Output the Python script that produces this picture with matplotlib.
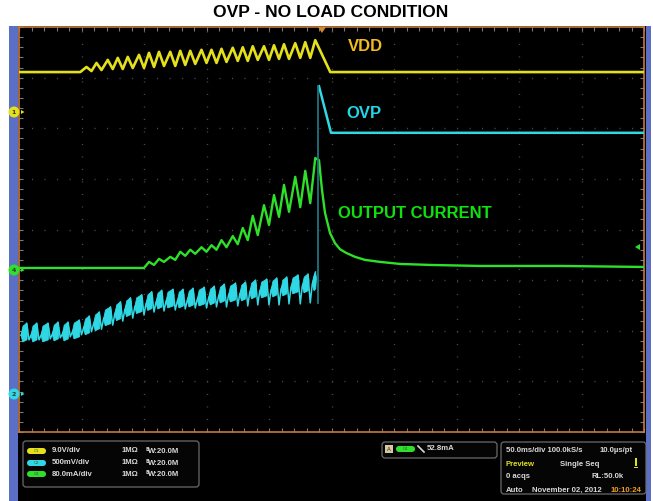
import matplotlib
matplotlib.use("Agg")
import numpy as np
import matplotlib.pyplot as plt
from matplotlib.patches import Rectangle, FancyBboxPatch, Circle, Polygon
from matplotlib.ticker import MultipleLocator

# time in ms (50 ms/div, 10 div), levels in divisions (8 div, bottom = 0)

# CH1 - VDD (yellow)
vdd_base = 7.11
vdd_pk_t = [54, 62, 71, 79, 87, 96, 104, 112, 121, 129, 137, 146, 154, 162,
            171, 179, 187, 196, 204, 212, 221, 229, 237]
vdd_pk = [7.21, 7.29, 7.35, 7.39, 7.41, 7.45, 7.49, 7.51, 7.51, 7.53, 7.53,
          7.55, 7.55, 7.57, 7.59, 7.60, 7.62, 7.62, 7.64, 7.66, 7.68, 7.70, 7.74]
vdd_tr_t = [58, 66, 75, 83, 91, 100, 108, 116, 125, 133, 141, 150, 158, 166,
            175, 183, 191, 200, 208, 216, 225, 233]
vdd_tr = [7.13, 7.15, 7.17, 7.17, 7.19, 7.19, 7.21, 7.23, 7.23, 7.25, 7.27,
          7.29, 7.29, 7.31, 7.33, 7.33, 7.35, 7.35, 7.37, 7.37, 7.39, 7.39]
vdd_off_t = 249

# CH2 - OVP (cyan)
ovp_spike_t = [8, 16, 25, 33, 41, 50, 58, 66, 75, 83, 91, 100, 108, 116, 125,
               133, 141, 150, 158, 166, 175, 183, 191, 200, 208, 216, 225, 233]
ovp_top = [2.15, 2.15, 2.15, 2.17, 2.17, 2.21, 2.29, 2.37, 2.47, 2.57, 2.65,
           2.71, 2.77, 2.80, 2.82, 2.82, 2.84, 2.86, 2.88, 2.92, 2.94, 2.96,
           3.00, 3.02, 3.04, 3.06, 3.10, 3.12, 3.16]
ovp_bot = [1.82, 1.82, 1.84, 1.86, 1.88, 1.92, 1.98, 2.03, 2.11, 2.19, 2.25,
           2.31, 2.37, 2.39, 2.41, 2.43, 2.45, 2.45, 2.47, 2.47, 2.49, 2.49,
           2.51, 2.51, 2.51, 2.53, 2.53, 2.55]
ovp_trip_t = 239.5
ovp_peak = 6.83
ovp_fall_t = 249.6
ovp_high = 5.91

# CH4 - output current (green)
cur_base = 3.24
cur_start_t = 100
cur_pk_t = [104, 112, 121, 129, 137, 146, 154, 162, 171, 179, 187, 196, 204,
            212, 221, 229, 237]
cur_pk = [3.36, 3.42, 3.46, 3.56, 3.60, 3.65, 3.69, 3.79, 3.87, 4.03, 4.27,
          4.48, 4.68, 4.88, 5.04, 5.16, 5.41]
cur_tr_t = [108, 116, 125, 133, 141, 150, 158, 166, 175, 183, 191, 200, 208,
            216, 225, 233]
cur_tr = [3.30, 3.36, 3.40, 3.48, 3.52, 3.56, 3.60, 3.65, 3.71, 3.79, 3.89,
          4.09, 4.25, 4.35, 4.44, 4.52]
cur_decay_t = [240, 242.4, 244.8, 248.8, 252.8, 256.8, 261.6, 268.8, 276.8,
               288.8, 304.8, 328.8, 368.8, 432.8, 500]
cur_decay = [5.37, 4.78, 4.33, 3.93, 3.73, 3.61, 3.54, 3.46, 3.40, 3.36, 3.32,
             3.30, 3.28, 3.28, 3.26]

YEL = "#e4e01c"
CYN = "#30d8e4"
GRN = "#2ee02a"
ORANGE = "#c57a3a"
BLUE = "#5b6fc4"

fig = plt.figure(figsize=(6.53, 5.01), dpi=100)
fig.patch.set_facecolor("white")

# background / scope frame in pixel coords
bg = fig.add_axes([0, 0, 1, 1])
bg.set_xlim(0, 653)
bg.set_ylim(501, 0)
bg.axis("off")
bg.add_patch(Rectangle((9, 26), 642, 480, color=BLUE, lw=0))
bg.add_patch(Rectangle((18, 26), 628, 480, color="black", lw=0))

fig.text(330.5 / 653, 1 - 12.5 / 501, "OVP - NO LOAD CONDITION", ha="center",
         va="center", fontsize=12.6, fontweight="bold", family="Liberation Sans")

# scope graticule
ax = fig.add_axes([19 / 653, (501 - 432) / 501, 625 / 653, 405 / 501])
ax.set_facecolor("black")
ax.set_xlim(0, 500)
ax.set_ylim(0, 8)
for s in ax.spines.values():
    s.set_color(ORANGE)
    s.set_linewidth(1.2)
ax.xaxis.set_major_locator(MultipleLocator(50))
ax.xaxis.set_minor_locator(MultipleLocator(10))
ax.yaxis.set_major_locator(MultipleLocator(1))
ax.yaxis.set_minor_locator(MultipleLocator(0.2))
ax.tick_params(which="both", direction="in", top=True, right=True,
               labelbottom=False, labelleft=False, color="#7a7a7a",
               length=3, width=0.8)
ax.grid(True, which="major", color="#4a4a4a", linestyle=(0, (0.8, 8.2)), lw=1)

# VDD trace
vt = [0, vdd_pk_t[0] - 5]
vy = [vdd_base, vdd_base]
for i in range(len(vdd_pk_t)):
    vt.append(vdd_pk_t[i])
    vy.append(vdd_pk[i])
    if i < len(vdd_tr_t):
        vt.append(vdd_tr_t[i])
        vy.append(vdd_tr[i])
vt += [vdd_off_t, 500]
vy += [vdd_base, vdd_base]
ax.plot(vt, vy, color=YEL, lw=1.9, solid_joinstyle="round", zorder=4)

# OVP trace: leaf-shaped teeth + thin spikes
starts = [0] + ovp_spike_t
ends = ovp_spike_t + [ovp_trip_t - 0.5]
thin_t, thin_y = [], []
for k in range(len(ovp_top)):
    a, b, top = starts[k], ends[k], ovp_top[k]
    leaf = [[a + 1.6, top - 0.24], [a + 3.2, top - 0.06], [b - 1.8, top],
            [b - 1.0, top - 0.12], [b - 1.6, top - 0.33], [a + 3.0, top - 0.37]]
    ax.add_patch(Polygon(leaf, closed=True, fc=CYN, ec=CYN, lw=0.6, zorder=3))
    thin_t += [a + 1.6, b - 1.8]
    thin_y += [top - 0.24, top]
    if k < len(ovp_bot):
        thin_t.append(b)
        thin_y.append(ovp_bot[k])
ax.plot(thin_t, thin_y, color=CYN, lw=1.1, zorder=3)
ax.plot([ovp_trip_t, ovp_trip_t], [ovp_bot[-1], ovp_peak], color="#1e7480",
        lw=1.3, zorder=5)
ax.plot([ovp_trip_t + 0.5, ovp_fall_t, 500], [ovp_peak, ovp_high, ovp_high],
        color=CYN, lw=1.8, zorder=4)

# output current trace
ct = [0, cur_start_t]
cy = [cur_base, cur_base]
for i in range(len(cur_pk_t)):
    ct.append(cur_pk_t[i])
    cy.append(cur_pk[i])
    if i < len(cur_tr_t):
        ct.append(cur_tr_t[i])
        cy.append(cur_tr[i])
ct += cur_decay_t
cy += cur_decay
ax.plot(ct, cy, color=GRN, lw=1.7, solid_joinstyle="round", zorder=4)

# trace labels
lab = dict(fontsize=12, fontweight="bold", family="Liberation Sans",
           va="center", ha="left", zorder=6)
ax.text(263, 7.62, "VDD", color="#f2bc1e", **lab)
ax.text(262, 6.30, "OVP", color="#22d4e6", **lab)
ax.text(255, 4.31, "OUTPUT CURRENT", color="#10e010", **lab)

# overlay: channel markers, trigger markers, status readouts
ov = fig.add_axes([0, 0, 1, 1], zorder=5)
ov.set_xlim(0, 653)
ov.set_ylim(501, 0)
ov.axis("off")
ov.patch.set_alpha(0)

for yy, col, lbl in [(112, YEL, "1"), (270, GRN, "4"), (394, CYN, "2")]:
    ov.add_patch(Circle((14, yy), 5.5, color=col, lw=0))
    ov.text(14, yy + 0.3, lbl, fontsize=4.5, ha="center", va="center",
            color="#333333", fontweight="bold")
    ov.add_patch(Polygon([[21, yy - 2], [21, yy + 2], [24.5, yy]], color=col,
                         lw=0))
ov.add_patch(Polygon([[318, 27], [326, 27], [322, 33]], color="#d08a2c", lw=0))
ov.add_patch(Polygon([[640, 244], [640, 250], [635, 247]], color=GRN, lw=0))

txt = dict(fontsize=5.6, fontweight="bold", family="Liberation Sans",
           color="#d8d8d8", va="center")


def box(x0, y0, w, h):
    ov.add_patch(FancyBboxPatch((x0, y0), w, h,
                                boxstyle="round,pad=0,rounding_size=3",
                                fc="#050505", ec="#6a6a6a", lw=0.9))


def pill(x0, yc, col, lbl):
    ov.add_patch(FancyBboxPatch((x0, yc - 3), 19, 6,
                                boxstyle="round,pad=0,rounding_size=3",
                                fc=col, ec="none"))
    ov.text(x0 + 9.5, yc, lbl, fontsize=3, ha="center", va="center",
            color="#335533")


box(23, 441, 176, 46)
rows = [(451, YEL, "C1", "9.0V/div"), (463, CYN, "C2", "500mV/div"),
        (474, GRN, "C4", "80.0mA/div")]
for yc, col, lbl, scale in rows:
    pill(27, yc, col, lbl)
    ov.text(52, yc, scale, **txt)
    ov.text(122, yc, "1M\u03a9", **txt)
    ov.text(145, yc - 1.5, "B", fontsize=3.5, fontweight="bold",
            color="#d8d8d8", va="center")
    ov.text(148, yc + 0.5, "W:20.0M", **txt)

box(382, 442, 115, 16)
ov.add_patch(Rectangle((385, 445), 8, 8, fc="#d8c8a0", ec="none"))
ov.text(389, 449.3, "A", fontsize=4, ha="center", va="center", color="#222222")
pill(396, 449, GRN, "C4")
ov.plot([418, 424], [446, 452], color="#d8d8d8", lw=1.2)
ov.text(427, 449, "52.8mA", **txt)

txt_r = {**txt, "ha": "right"}
box(501, 442, 145, 52)
ov.text(506, 451, "50.0ms/div 100.0kS/s", **txt)
ov.text(633, 451, "10.0\u00b5s/pt", **txt_r)
ov.text(506, 464, "Preview", **{**txt, "color": "#e0e020"})
ov.text(560, 464, "Single Seq", **txt)
ov.add_patch(Rectangle((634.5, 458), 2, 8, fc="#e0e020", ec="none"))
ov.add_patch(Rectangle((633.5, 466.5), 4, 1.5, fc="#e0e020", ec="none"))
ov.text(506, 477, "0 acqs", **txt)
ov.text(624, 477, "RL:50.0k", **txt_r)
ov.text(506, 490, "Auto", **txt)
ov.text(532, 490, "November 02, 2012", **txt)
ov.text(641, 490, "10:10:24", **{**txt_r, "color": "#f0a020"})

fig.savefig("out.png", dpi=100, facecolor="white")
